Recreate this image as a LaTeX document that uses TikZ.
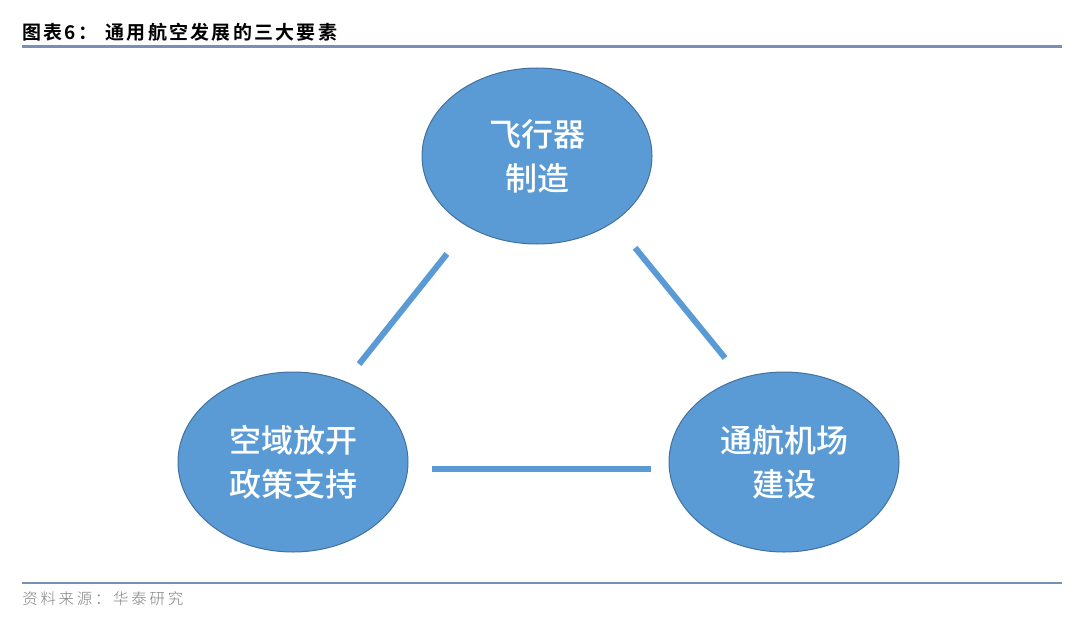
\documentclass[tikz,border=0pt]{standalone}
\usepackage{fontspec}
\usepackage{xcolor}
\usepackage{tikz}
\usetikzlibrary{calc,shapes.geometric}
\newfontfamily\cjk{Noto Sans CJK SC Medium}
\newfontfamily\cjkbold{Noto Sans CJK SC Bold}[LetterSpace=12]
\newfontfamily\cjklight{Noto Sans CJK SC Light}[LetterSpace=18]
\definecolor{factorfill}{HTML}{5B9BD5}
\definecolor{factoredge}{HTML}{41719C}
\definecolor{rulecolor}{HTML}{7592B5}
\definecolor{sourcegray}{HTML}{808080}
\tikzset{
  factor/.style={ellipse,fill=factorfill,draw=factoredge,line width=0.5pt,
    minimum width=115pt,minimum height=90pt,inner sep=0pt,text=white,
    font=\cjk\fontsize{16}{22}\selectfont,align=center},
  link/.style={line width=3pt,factorfill},
  headrule/.style={line width=1.2pt,rulecolor}
}

\begin{document}
\begin{tikzpicture}[x=0.5pt,y=-0.5pt]
  \useasboundingbox (0,0) rectangle (1080,626);
  % heading and source
  \node[anchor=base west,inner sep=0pt,font=\cjkbold\fontsize{9.5}{11}\selectfont] (title) at (22,40) {图表6：\hspace{4pt}通用航空发展的三大要素};
  \draw[headrule] (22,46.5) -- (1062,46.5);
  \draw[headrule] (22,583) -- (1062,583);
  \node[anchor=base west,inner sep=0pt,text=sourcegray,font=\cjklight\fontsize{7.7}{9}\selectfont] (source) at (22,604) {资料来源：华泰研究};
  % the three factors
  \node[factor,minimum height=88pt] (craft) at (537,156) {飞行器\\制造};
  \node[factor] (policy) at (293,462) {空域放开\\政策支持};
  \node[factor] (airport) at (784,462) {通航机场\\建设};
  \draw[link] ($(craft)!0.32!(policy)+(-12,0)$) -- ($(craft)!0.68!(policy)+(-12,0)$);
  \draw[link] ($(craft)!0.30!(airport)+(24,0)$) -- ($(craft)!0.66!(airport)+(25,0)$);
  \draw[link] ($(policy)!0.283!(airport)+(0,7)$) -- ($(policy)!0.729!(airport)+(0,7)$);
\end{tikzpicture}
\end{document}
